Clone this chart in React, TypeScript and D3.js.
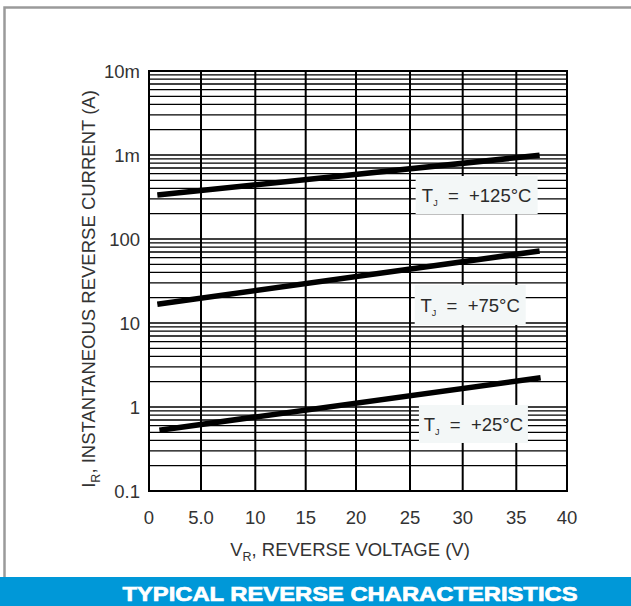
import React from "react";
import * as d3 from "d3";

const voltTicks = [0, 5, 10, 15, 20, 25, 30, 35, 40];
const voltTickLabels = ["0", "5.0", "10", "15", "20", "25", "30", "35", "40"];
const currentTicks = [0.1, 1, 10, 100, 1000, 10000];
const currentTickLabels = ["0.1", "1", "10", "100", "1m", "10m"];

const seriesTemps = ["+25°C", "+75°C", "+125°C"];
const seriesVStart = [1.0, 0.8, 0.8];
const seriesVEnd = [37.4, 37.3, 37.3];
const seriesIStart = [0.53, 16.7, 334];
const seriesIEnd = [2.23, 72, 992];

const labelV = [31.0, 30.7, 31.3];
const labelI = [0.628, 16.4, 334];

const W = 631;
const H = 606;

export default function App() {
  const x = d3
    .scaleLinear()
    .domain(voltTicks)
    .range([149, 201, 255.3, 305.7, 356, 410, 462.7, 516.3, 567]);
  const y = d3.scaleLog().domain([0.1, 10000]).range([491, 71]);

  const minor: number[] = [];
  for (let d = 0; d < currentTicks.length - 1; d++) {
    for (let k = 2; k <= 9; k++) minor.push(currentTicks[d] * k);
  }

  const line = d3
    .line<[number, number]>()
    .x((p) => x(p[0]))
    .y((p) => y(p[1]));

  const x0 = x(0);
  const x1 = x(40);
  const yTop = y(10000);
  const yBot = y(0.1);

  const boxW = [109, 111, 122];
  const boxH = [38, 40, 38];
  const font = "'Liberation Sans', Arial, sans-serif";
  const txt = "#333";
  const nb = "\u00A0";

  return (
    <svg
      width={W}
      height={H}
      style={{ position: "absolute", left: 0, top: 0, background: "#fff" }}
    >
      <rect x={4.5} y={7.5} width={640} height={580} fill="#fff" stroke="#9a9a9a" strokeWidth={2.5} />
      {minor.map((v, i) => (
        <line key={"m" + i} x1={x0} x2={x1} y1={y(v)} y2={y(v)} stroke="#000" strokeWidth={1.3} />
      ))}
      {currentTicks.map((v, i) => (
        <line key={"M" + i} x1={x0} x2={x1} y1={y(v)} y2={y(v)} stroke="#000" strokeWidth={1.5} />
      ))}
      {voltTicks.map((v, i) => (
        <line key={"v" + i} x1={x(v)} x2={x(v)} y1={yTop} y2={yBot} stroke="#000" strokeWidth={2} />
      ))}
      <rect x={x0} y={yTop} width={x1 - x0} height={yBot - yTop} fill="none" stroke="#000" strokeWidth={2} />

      {seriesTemps.map((t, i) => (
        <path
          key={"s" + i}
          d={line([
            [seriesVStart[i], seriesIStart[i]],
            [seriesVEnd[i], seriesIEnd[i]],
          ]) || ""}
          fill="none"
          stroke="#000"
          strokeWidth={5.5}
        />
      ))}

      {seriesTemps.map((t, i) => {
        const cx = x(labelV[i]);
        const cy = y(labelI[i]);
        return (
          <g key={"l" + i}>
            <rect
              x={cx - boxW[i] / 2}
              y={cy - boxH[i] / 2}
              width={boxW[i]}
              height={boxH[i]}
              fill="#f3f7f7"
            />
            <text
              x={cx}
              y={cy + 7}
              textAnchor="middle"
              fontFamily={font}
              fontSize={18.5}
              fill="#2a2a2a"
            >
              T<tspan fontSize={9} dy={4}>J</tspan>
              <tspan dy={-4}>{nb + nb + "=" + nb + nb + t}</tspan>
            </text>
          </g>
        );
      })}

      {currentTicks.map((v, i) => (
        <text
          key={"yt" + i}
          x={140}
          y={y(v)}
          dy="0.36em"
          textAnchor="end"
          fontFamily={font}
          fontSize={18.5}
          fill={txt}
        >
          {currentTickLabels[i]}
        </text>
      ))}
      {voltTicks.map((v, i) => (
        <text
          key={"xt" + i}
          x={x(v)}
          y={524}
          textAnchor="middle"
          fontFamily={font}
          fontSize={18.5}
          fill={txt}
        >
          {voltTickLabels[i]}
        </text>
      ))}

      <text x={350} y={556} textAnchor="middle" fontFamily={font} fontSize={18.5} fill={txt}>
        V<tspan fontSize={12.5} dy={5}>R</tspan>
        <tspan dy={-5}>, REVERSE VOLTAGE (V)</tspan>
      </text>
      <text
        transform={`translate(95, ${(yTop + yBot) / 2 + 8}) rotate(-90)`}
        textAnchor="middle"
        fontFamily={font}
        fontSize={18.5}
        fill={txt}
      >
        I<tspan fontSize={12.5} dy={5}>R</tspan>
        <tspan dy={-5}>, INSTANTANEOUS REVERSE CURRENT (A)</tspan>
      </text>

      <rect x={0} y={577} width={W} height={H - 577} fill="#0098d8" />
      <text
        x={350}
        y={601}
        textAnchor="middle"
        fontFamily={font}
        fontWeight={900}
        fontSize={21}
        fill="#fff"
        textLength={455}
        lengthAdjust="spacingAndGlyphs"
        stroke="#fff"
        strokeWidth={0.7}
      >
        TYPICAL REVERSE CHARACTERISTICS
      </text>
    </svg>
  );
}
